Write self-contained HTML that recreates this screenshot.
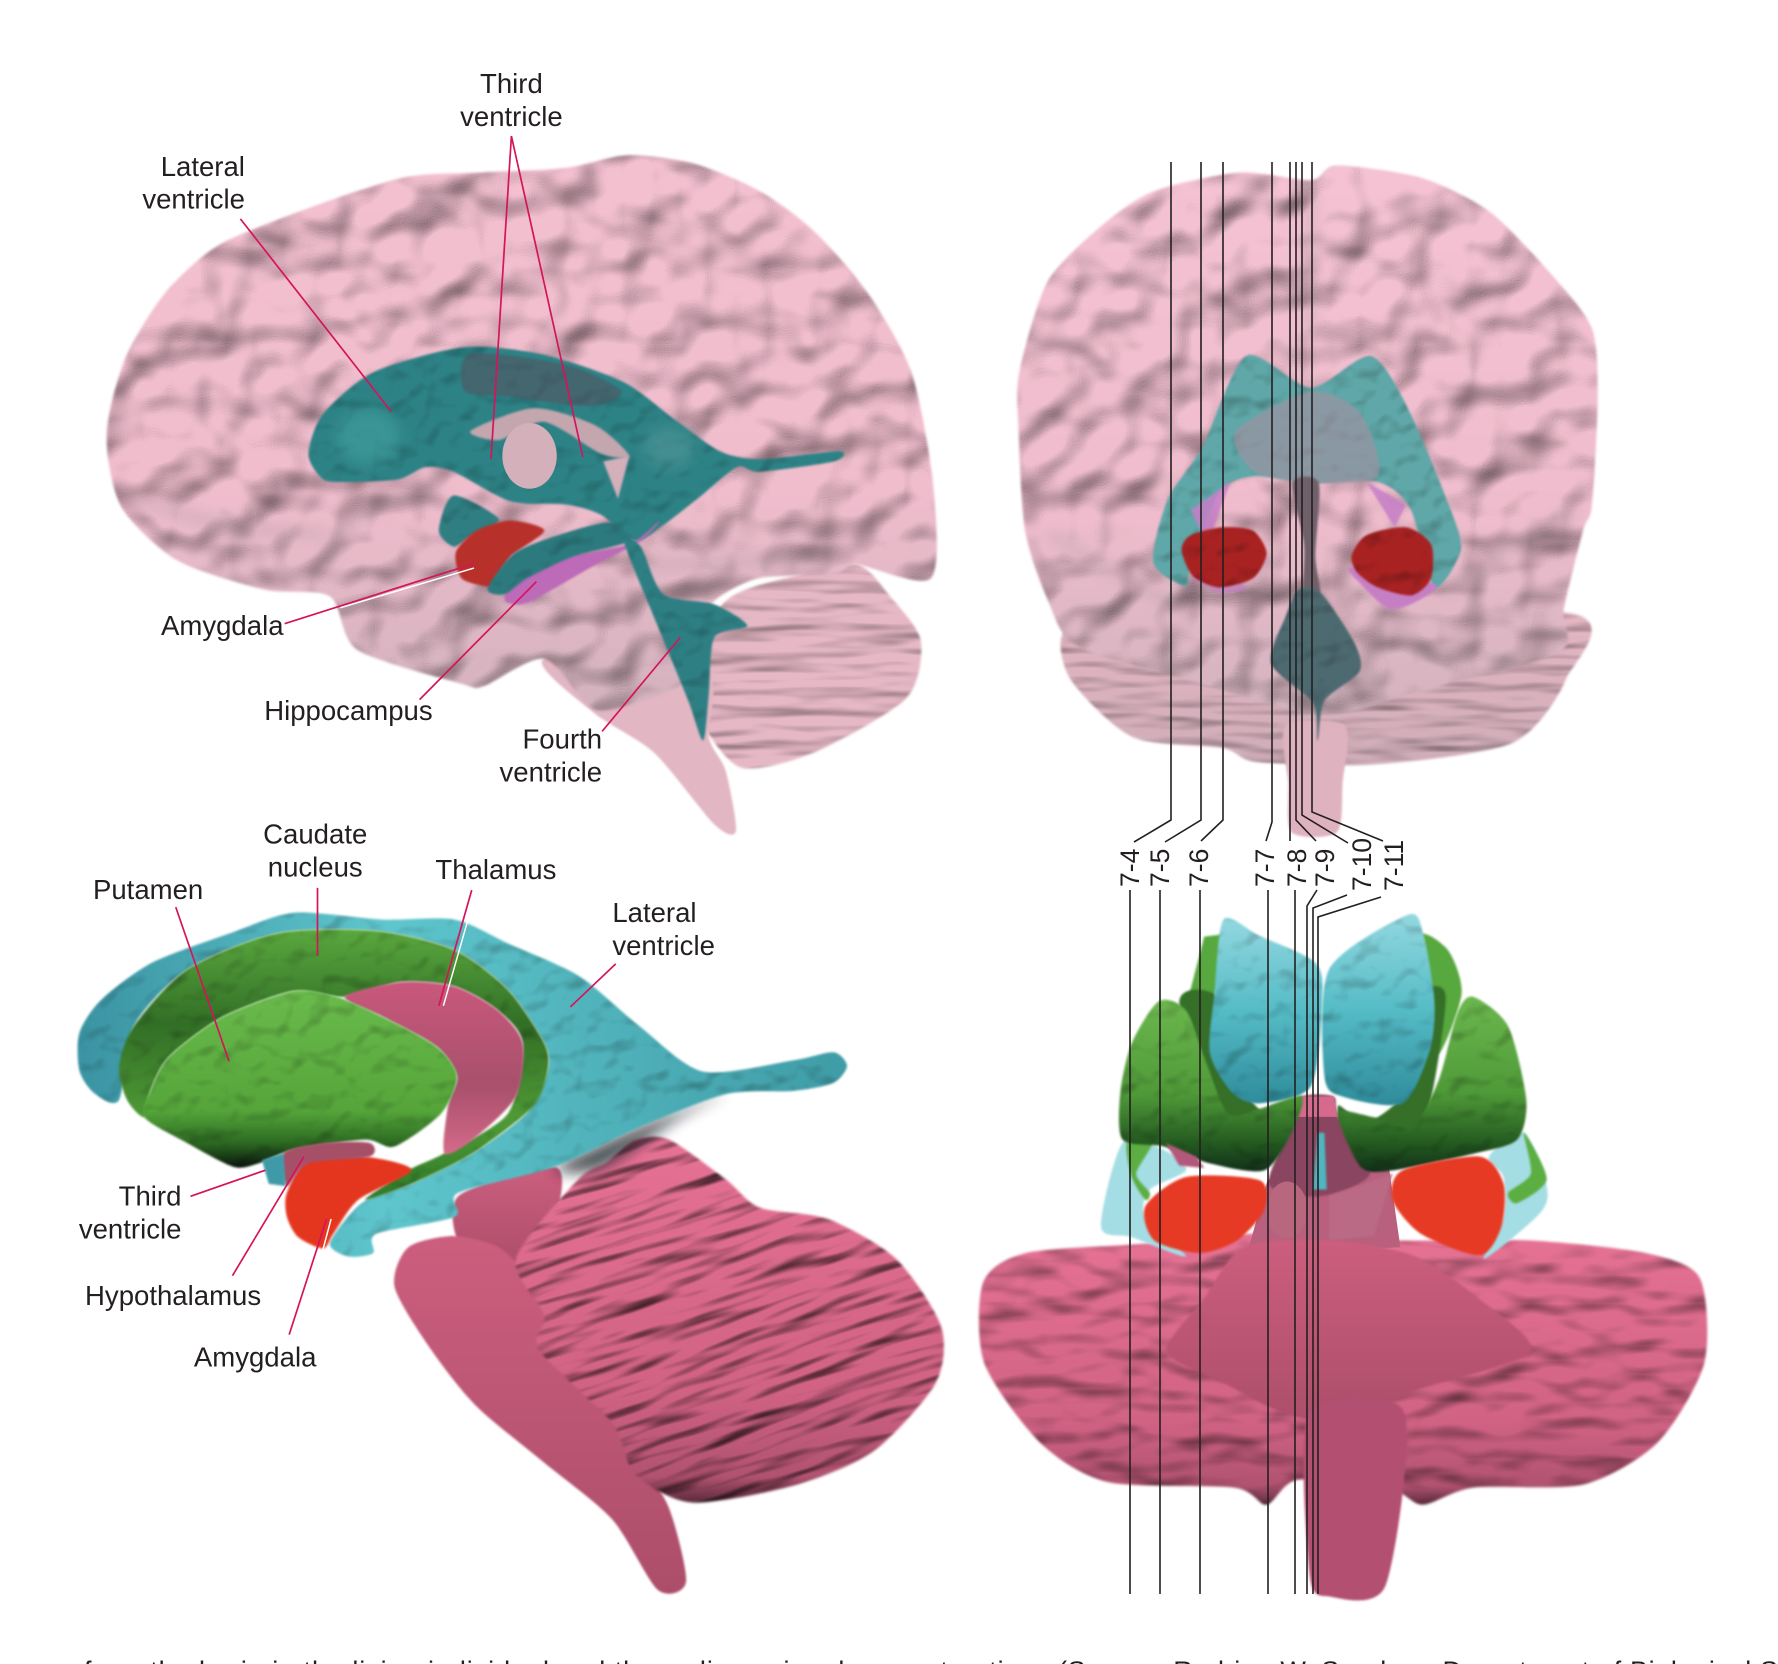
<!DOCTYPE html>
<html><head><meta charset="utf-8">
<style>html,body{margin:0;padding:0;background:#fff}svg{display:block}text{font-family:"Liberation Sans",sans-serif;fill:#231f20}</style></head>
<body>
<svg xmlns="http://www.w3.org/2000/svg" width="1778" height="1664" viewBox="0 0 1778 1664">
<defs>
<filter id="brain" x="-5%" y="-5%" width="110%" height="110%" color-interpolation-filters="sRGB">
<feGaussianBlur in="SourceGraphic" stdDeviation="1.2" result="s"/>
<feTurbulence type="fractalNoise" baseFrequency="0.02 0.023" numOctaves="2" seed="7" result="n"/>
<feGaussianBlur in="n" stdDeviation="1.8" result="n2"/>
<feDiffuseLighting in="n2" surfaceScale="11" diffuseConstant="1.08" lighting-color="#fff" result="l"><feDistantLight azimuth="240" elevation="62"/></feDiffuseLighting>
<feComposite in="s" in2="l" operator="arithmetic" k1="1" k2="0" k3="0" k4="0"/>
</filter>
<filter id="ridge" x="-5%" y="-5%" width="110%" height="110%" color-interpolation-filters="sRGB">
<feGaussianBlur in="SourceGraphic" stdDeviation="1.2" result="s"/>
<feTurbulence type="fractalNoise" baseFrequency="0.012 0.07" numOctaves="2" seed="3" result="n"/>
<feGaussianBlur in="n" stdDeviation=".8" result="n2"/>
<feDiffuseLighting in="n2" surfaceScale="6" diffuseConstant="1.08" lighting-color="#fff" result="l"><feDistantLight azimuth="260" elevation="62"/></feDiffuseLighting>
<feComposite in="s" in2="l" operator="arithmetic" k1="1" k2="0" k3="0" k4="0"/>
</filter>
<filter id="lump" x="-5%" y="-5%" width="110%" height="110%" color-interpolation-filters="sRGB">
<feGaussianBlur in="SourceGraphic" stdDeviation="1.2" result="s"/>
<feTurbulence type="fractalNoise" baseFrequency="0.02 0.04" numOctaves="2" seed="9" result="n"/>
<feGaussianBlur in="n" stdDeviation=".8" result="n2"/>
<feDiffuseLighting in="n2" surfaceScale="6" diffuseConstant="1.08" lighting-color="#fff" result="l"><feDistantLight azimuth="260" elevation="62"/></feDiffuseLighting>
<feComposite in="s" in2="l" operator="arithmetic" k1="1" k2="0" k3="0" k4="0"/>
</filter>
<filter id="ridgeP" x="-5%" y="-5%" width="110%" height="110%" color-interpolation-filters="sRGB">
<feGaussianBlur in="SourceGraphic" stdDeviation="1.2" result="s"/>
<feTurbulence type="fractalNoise" baseFrequency="0.012 0.07" numOctaves="2" seed="5" result="n"/>
<feGaussianBlur in="n" stdDeviation=".8" result="n2"/>
<feDiffuseLighting in="n2" surfaceScale="3" diffuseConstant="1.08" lighting-color="#fff" result="l"><feDistantLight azimuth="260" elevation="62"/></feDiffuseLighting>
<feComposite in="s" in2="l" operator="arithmetic" k1="1" k2="0" k3="0" k4="0"/>
</filter>
<filter id="bump" x="-5%" y="-5%" width="110%" height="110%" color-interpolation-filters="sRGB">
<feGaussianBlur in="SourceGraphic" stdDeviation="1" result="s"/>
<feTurbulence type="fractalNoise" baseFrequency="0.045" numOctaves="2" seed="11" result="n"/>
<feGaussianBlur in="n" stdDeviation="1" result="n2"/>
<feDiffuseLighting in="n2" surfaceScale="3" diffuseConstant="1.14" lighting-color="#fff" result="l"><feDistantLight azimuth="250" elevation="62"/></feDiffuseLighting>
<feComposite in="s" in2="l" operator="arithmetic" k1="1" k2="0" k3="0" k4="0"/>
</filter>
<filter id="soft" x="-10%" y="-10%" width="120%" height="120%" color-interpolation-filters="sRGB"><feGaussianBlur stdDeviation="1"/></filter>
<filter id="blur" x="-30%" y="-30%" width="160%" height="160%"><feGaussianBlur stdDeviation="6"/></filter>
<linearGradient id="pk" x1="0" y1="0" x2="0" y2="1"><stop offset="0" stop-color="#f3c0d0"/><stop offset=".6" stop-color="#f0bdcd"/><stop offset="1" stop-color="#d2b2bd"/></linearGradient>
<linearGradient id="pk2" x1="0" y1="0" x2="0" y2="1"><stop offset="0" stop-color="#f4c2d2"/><stop offset=".65" stop-color="#eebccc"/><stop offset="1" stop-color="#d2b3be"/></linearGradient>
<linearGradient id="pk3" x1="0" y1="0" x2="0" y2="1"><stop offset="0" stop-color="#e4b6c3"/><stop offset="1" stop-color="#cfadb8"/></linearGradient>
<linearGradient id="cy" x1="0" y1="0" x2="1" y2="0"><stop offset="0" stop-color="#3a93a2"/><stop offset=".4" stop-color="#5fc6cd"/><stop offset="1" stop-color="#3f9ca6"/></linearGradient>
<linearGradient id="cy2" x1="0" y1="0" x2="0" y2="1"><stop offset="0" stop-color="#93d8e0"/><stop offset=".5" stop-color="#55bcc6"/><stop offset="1" stop-color="#2f8c9b"/></linearGradient>
<linearGradient id="gr" x1="0" y1="0" x2="0" y2="1"><stop offset="0" stop-color="#5aa83e"/><stop offset=".35" stop-color="#326f26"/><stop offset=".7" stop-color="#4f9a36"/><stop offset="1" stop-color="#2f7a2a"/></linearGradient>
<linearGradient id="gr2" x1="0" y1="0" x2="0" y2="1"><stop offset="0" stop-color="#6abb4c"/><stop offset=".68" stop-color="#55a53a"/><stop offset=".86" stop-color="#2c6a22"/><stop offset="1" stop-color="#0a140c"/></linearGradient>
<linearGradient id="gr3" x1="0" y1="0" x2="0" y2="1"><stop offset="0" stop-color="#6cb84e"/><stop offset=".55" stop-color="#4f9a38"/><stop offset=".85" stop-color="#22571f"/><stop offset="1" stop-color="#12301a"/></linearGradient>
<linearGradient id="mr" x1="0" y1="0" x2="0" y2="1"><stop offset="0" stop-color="#e67294"/><stop offset=".7" stop-color="#d06284"/><stop offset=".93" stop-color="#b05270"/><stop offset="1" stop-color="#5a2a3c"/></linearGradient>
<linearGradient id="mr2" x1="0" y1="0" x2="0" y2="1"><stop offset="0" stop-color="#cc5e7e"/><stop offset="1" stop-color="#ac4e6b"/></linearGradient>
<linearGradient id="th" x1="0" y1="0" x2="0" y2="1"><stop offset="0" stop-color="#c9587c"/><stop offset=".6" stop-color="#a8506c"/><stop offset="1" stop-color="#d56a8a"/></linearGradient>
</defs>
<rect width="1778" height="1664" fill="#fff"/>

<g transform="scale(1.13393)">
<!-- TOP LEFT BRAIN -->
<polygon filter="url(#ridgeP)" fill="#e6b8c5" points="640,530 700,508 756,498 785,526 812,565 799,616 717,664 654,677 620,640 600,600"/>
<polygon filter="url(#soft)" fill="#e2b6c3" points="480,581 620,590 625,650 640,680 649,733 630,727 577,664 523,628"/>
<polygon filter="url(#brain)" fill="url(#pk)" points="94,384 110,317 146,258 195,215 282,180 359,156 427,152 499,148 553,137 611,144 669,168 717,203 765,258 804,329 823,428 821,510 756,498 736,506 669,510 630,530 610,560 605,600 560,620 523,625 480,581 427,605 407,603 315,573 291,526 233,520 156,494 107,447"/>
<g fill="none" stroke="#a8929b" stroke-width="5" opacity=".6" filter="url(#blur)">
<path d="M288,495 Q300,445 390,432"/><path d="M120,440 Q200,470 285,470"/><path d="M560,500 Q660,490 730,500"/>
</g>
<polygon filter="url(#bump)" fill="#2d8285" points="272,400 285,365 330,328 410,306 480,313 550,337 595,370 635,398 670,405 740,398 735,407 670,416 650,412 615,440 585,463 560,477 530,454 500,445 450,442 400,416 375,412 350,423 295,425 282,420"/>
<ellipse cx="325" cy="385" rx="28" ry="24" fill="#3f9d9c" opacity=".7" filter="url(#blur)"/>
<ellipse cx="590" cy="395" rx="22" ry="18" fill="#4d9496" opacity=".7" filter="url(#blur)"/>
<polygon filter="url(#soft)" fill="#56505e" opacity=".55" points="415,312 500,322 548,345 520,358 450,350 410,345"/>
<polygon filter="url(#soft)" fill="#c4a6ae" points="415,380 470,360 525,375 555,402 530,400 480,372 440,388"/>
<ellipse cx="467" cy="402" rx="24" ry="29" fill="#d3b0ba"/>
<polygon filter="url(#soft)" fill="#d3b0ba" points="532,407 555,402 545,440"/>
<polygon filter="url(#bump)" fill="#2f7e82" points="387,468 400,437 440,458 415,473 400,482"/>
<polygon filter="url(#soft)" fill="#bd6ab8" points="445,529 455,508 500,491 555,480 582,459 565,477 520,501 480,524 460,533"/>
<polygon filter="url(#soft)" fill="#b8302a" points="402,487 420,468 450,459 480,468 450,491 435,515 428,517 407,510"/>
<polygon filter="url(#bump)" fill="#2c7a7e" points="430,519 455,487 505,468 540,461 555,477 505,491 465,510 445,524"/>
<polygon filter="url(#bump)" fill="#2e7f83" points="550,477 565,482 585,524 630,533 659,552 630,562 625,613 620,653 607,618 580,552"/>

<!-- TOP RIGHT BRAIN -->
<polygon filter="url(#ridgeP)" fill="url(#pk3)" points="939,557 1000,560 1380,540 1381,599 1334,655 1214,674 1109,672 1079,660 999,650 944,599"/>
<polygon filter="url(#soft)" fill="#dfb2bf" points="1134,640 1186,640 1184,690 1179,734 1139,734 1136,690"/>
<polygon filter="url(#brain)" fill="url(#pk2)" points="899,328 924,248 974,197 1019,168 1094,152 1156,159 1179,146 1254,157 1314,187 1369,243 1404,290 1409,351 1404,445 1396,468 1379,538 1375,575 1250,610 1164,630 1050,600 950,570 924,529 904,468 898,374"/>
<g fill="none" stroke="#a8929b" stroke-width="5" opacity=".55" filter="url(#blur)">
<path d="M925,470 Q990,510 1040,535"/><path d="M1390,450 Q1320,490 1275,525"/><path d="M1156,165 L1156,300"/>
</g>
<polygon filter="url(#bump)" fill="#5fa7a8" points="1099,314 1156,342 1209,314 1244,365 1286,468 1284,496 1264,517 1244,449 1215,425 1156,426 1105,420 1075,435 1050,500 1045,517 1017,496 1030,440 1060,395"/>
<polygon filter="url(#soft)" fill="#a88fa0" opacity=".6" points="1090,380 1156,345 1200,365 1215,420 1156,426 1105,415"/>
<polygon filter="url(#soft)" fill="#c67fc8" opacity=".85" points="1050,450 1085,425 1065,480"/>
<polygon filter="url(#soft)" fill="#c67fc8" opacity=".85" points="1205,425 1240,445 1230,465"/>
<polygon filter="url(#soft)" fill="#c77fc4" points="1192,500 1200,515 1225,537 1250,530 1265,515"/>
<polygon filter="url(#soft)" fill="#c77fc4" opacity=".7" points="1050,510 1075,524 1100,520 1085,500"/>
<polygon filter="url(#bump)" fill="#a92222" points="1042,485 1050,472 1078,465 1105,468 1117,488 1105,510 1075,518 1052,508"/>
<polygon filter="url(#bump)" fill="#a92222" points="1192,490 1205,472 1240,465 1262,480 1262,510 1245,525 1215,518 1197,505"/>
<polygon filter="url(#soft)" fill="#70606a" points="1140,426 1163,426 1160,490 1164,522 1150,520 1150,480"/>
<polygon filter="url(#bump)" fill="#4d6a70" points="1145,520 1164,522 1194,566 1199,592 1168,618 1162,653 1158,620 1121,585 1134,543"/>

<!-- BOTTOM LEFT -->
<polygon filter="url(#soft)" fill="url(#mr2)" points="404,1055 489,1029 492,1067 470,1115 410,1105"/>
<polygon filter="url(#soft)" fill="url(#mr2)" points="348,1135 360,1100 400,1090 440,1100 470,1130 510,1180 560,1280 590,1330 605,1395 580,1402 540,1340 480,1290 420,1240 380,1190"/>
<g transform="rotate(-18 640 1170)" filter="url(#ridge)">
<polygon transform="rotate(18 640 1170)" fill="url(#mr)" points="455,1110 510,1040 535,1025 560,1005 590,1005 640,1040 670,1065 730,1075 790,1110 830,1170 825,1220 770,1280 700,1310 610,1325 560,1300 540,1255 475,1190 480,1160"/>
</g>
<polygon filter="url(#blur)" fill="#10181c" opacity=".75" points="490,1030 564,994 640,965 600,985 530,1030"/>
<polygon filter="url(#bump)" fill="url(#cy)" points="70,911 89,882 134,849 203,823 259,805 338,811 401,811 448,832 511,861 564,905 620,945 700,935 735,928 747,940 735,955 700,962 640,965 564,994 489,1029 404,1052 401,1073 332,1088 329,1105 307,1108 291,1096 319,1061 363,1044 417,1017 464,982 483,944 480,920 448,873 401,838 332,821 244,823 165,855 118,905 105,970 83,964 70,944"/>
<polygon filter="url(#bump)" fill="url(#gr)" points="105,941 118,905 165,855 244,823 332,821 401,838 448,873 480,920 483,944 470,976 417,1017 363,1044 322,1058 360,1032 392,1017 448,982 461,920 439,891 401,870 354,866 304,879 259,874 196,897 149,932 133,961 127,985 112,970"/>
<polygon filter="url(#soft)" fill="url(#th)" points="304,879 354,866 401,870 439,891 461,920 455,967 417,1005 392,1017 395,976 403,949 385,923 338,897"/>
<polygon filter="url(#bump)" fill="url(#gr2)" points="133,961 149,932 196,897 259,874 297,879 338,897 385,923 403,949 389,982 348,1011 322,1005 259,1014 228,1026 206,1029 165,1008 127,985"/>
<polygon filter="url(#soft)" fill="#e4361f" points="253,1052 272,1023 322,1020 363,1032 316,1058 294,1088 285,1101 263,1091 253,1073"/>
<polygon filter="url(#soft)" fill="#a65068" points="250,1017 285,1008 326,1008 326,1020 272,1026 253,1046"/>
<polygon filter="url(#soft)" fill="#3f9aa8" points="231,1023 250,1017 252,1046 237,1044"/>

<!-- BOTTOM RIGHT -->
<polygon filter="url(#lump)" fill="url(#mr)" points="867,1131 905,1105 1006,1097 1107,1088 1172,1094 1249,1094 1350,1094 1451,1105 1499,1127 1503,1202 1462,1272 1397,1309 1299,1312 1255,1327 1227,1314 1145,1305 1117,1327 1089,1312 977,1307 917,1272 868,1202"/>
<polygon fill="#b8607e" points="1118,1040 1225,1030 1235,1100 1100,1105"/>
<polygon filter="url(#soft)" fill="#a4dde4" points="990,1008 971,1082 998,1091 1046,1108 1010,1073 1014,1049 1046,1032 1026,1014"/>
<polygon filter="url(#soft)" fill="#a4dde4" points="1344,999 1364,1046 1358,1070 1309,1110 1326,1073 1326,1038 1313,1020"/>
<polygon filter="url(#soft)" fill="#5cae42" points="994,1008 1016,1008 1002,1035 1014,1052 1010,1058 998,1038"/>
<polygon filter="url(#soft)" fill="#5cae42" points="1344,999 1364,1040 1338,1061 1330,1052 1350,1035"/>
<polygon filter="url(#soft)" fill="#57a83e" points="1062,826 1087,823 1067,894 1046,888"/>
<polygon filter="url(#soft)" fill="#57a83e" points="1251,826 1277,838 1289,876 1269,929 1255,900"/>
<polygon filter="url(#soft)" fill="#356f28" points="1040,885 1075,880 1090,950 1120,985 1148,967 1140,1005 1080,1015"/>
<polygon filter="url(#soft)" fill="#356f28" points="1275,880 1250,880 1240,960 1205,990 1180,975 1190,1010 1250,1010"/>
<polygon filter="url(#soft)" fill="#8a4560" points="1143,985 1148,967 1176,967 1180,985 1208,1035 1164,1055 1119,1044"/>
<polygon fill="#d56a8c" points="1148,967 1176,967 1180,985 1143,985"/>
<polygon filter="url(#soft)" fill="#4fb6c0" points="1162,999 1168,999 1170,1049 1158,1049"/>
<polygon filter="url(#bump)" fill="url(#cy2)" points="1079,811 1110,825 1160,849 1166,882 1156,958 1111,973 1087,964 1067,929 1071,876"/>
<polygon filter="url(#bump)" fill="url(#cy2)" points="1241,807 1255,823 1265,882 1261,926 1237,973 1184,967 1168,949 1172,855"/>
<polygon filter="url(#bump)" fill="url(#gr3)" points="1022,883 1046,891 1063,935 1083,982 1110,978 1148,967 1139,999 1115,1032 1067,1026 1026,1011 990,1005 988,964 998,920"/>
<polygon filter="url(#bump)" fill="url(#gr3)" points="1299,879 1330,905 1346,970 1338,1005 1301,1017 1229,1032 1200,1029 1180,982 1210,985 1245,994 1269,952 1285,894"/>
<polygon filter="url(#soft)" fill="#ba6a85" points="1172,1055 1228,1035 1212,1090 1172,1094"/>
<ellipse cx="1135" cy="1067" rx="18" ry="25" fill="#b8677f"/>
<polygon filter="url(#soft)" fill="#b3587a" points="1028,1008 1055,1020 1062,1030 1040,1028"/>
<polygon filter="url(#soft)" fill="#e63a24" points="1010,1064 1046,1038 1111,1041 1115,1067 1091,1094 1058,1105 1018,1094"/>
<polygon filter="url(#soft)" fill="#e63a24" points="1228,1058 1237,1032 1305,1020 1326,1044 1324,1082 1305,1107 1253,1088"/>
<polygon filter="url(#soft)" fill="url(#mr2)" points="1098,1099 1178,1094 1248,1108 1304,1145 1350,1192 1252,1225 1200,1248 1183,1258 1127,1244 1080,1220 1029,1192 1062,1145"/>
<polygon filter="url(#soft)" fill="#b34f70" points="1155,1245 1238,1245 1222,1398 1173,1408 1155,1389"/>

<!-- crimson leaders -->
<g stroke="#d5145a" stroke-width="1.5" fill="none">
<polyline points="212,193 345,363"/><polyline points="433,405 451,120 514,403"/>
<polyline points="251,550 418,497"/><polyline points="370,617 473,513"/><polyline points="531,645 600,562"/>
<polyline points="280,783 280,843"/><polyline points="155,800 202,936"/>
<polyline points="416,785 387,887"/><polyline points="543,850 503,888"/>
<polyline points="168,1055 234,1032"/><polyline points="205,1125 268,1020"/><polyline points="255,1177 288,1075"/>
</g>
<g stroke="#fff" stroke-width="1.3" fill="none">
<polyline points="300,536 418,501"/><polyline points="391,887 413,810"/><polyline points="292,1075 280,1120"/>
</g>

<!-- labels -->
<g font-size="24.3">
<text x="451" y="82" text-anchor="middle">Third</text><text x="451" y="111" text-anchor="middle">ventricle</text>
<text x="216" y="155" text-anchor="end">Lateral</text><text x="216" y="184" text-anchor="end">ventricle</text>
<text x="142" y="560">Amygdala</text><text x="233" y="635">Hippocampus</text>
<text x="531" y="660" text-anchor="end">Fourth</text><text x="531" y="689" text-anchor="end">ventricle</text>
<text x="278" y="744" text-anchor="middle">Caudate</text><text x="278" y="773" text-anchor="middle">nucleus</text>
<text x="384" y="775">Thalamus</text><text x="82" y="793">Putamen</text>
<text x="540" y="813">Lateral</text><text x="540" y="842">ventricle</text>
<text x="160" y="1063" text-anchor="end">Third</text><text x="160" y="1092" text-anchor="end">ventricle</text>
<text x="75" y="1151">Hypothalamus</text><text x="171" y="1205">Amygdala</text>
</g>
</g>

<!-- section lines (real px) -->
<g stroke="#231f20" stroke-width="1.6" fill="none">
<polyline points="1171,162 1171,820 1134,842"/>
<polyline points="1201,162 1201,820 1165,842"/>
<polyline points="1223,162 1223,820 1201,841"/>
<polyline points="1272,162 1272,822 1266,841"/>
<polyline points="1290,162 1290,841"/>
<polyline points="1296,162 1296,820 1316,841"/>
<polyline points="1302,162 1302,815 1348,843"/>
<polyline points="1312,162 1312,812 1383,841"/>
<polyline points="1130,890 1130,1594"/>
<polyline points="1160,890 1160,1594"/>
<polyline points="1200,890 1200,1594"/>
<polyline points="1268,890 1268,1594"/>
<polyline points="1295,890 1295,1594"/>
<polyline points="1317,890 1307,906 1307,1594"/>
<polyline points="1347,895 1313,908 1313,1594"/>
<polyline points="1381,897 1318,917 1318,1594"/>
</g>
<g font-size="26.5">
<text transform="translate(1139,887) rotate(-90)">7-4</text>
<text transform="translate(1169,887) rotate(-90)">7-5</text>
<text transform="translate(1208,887) rotate(-90)">7-6</text>
<text transform="translate(1274,887) rotate(-90)">7-7</text>
<text transform="translate(1306,887) rotate(-90)">7-8</text>
<text transform="translate(1334,887) rotate(-90)">7-9</text>
<text transform="translate(1371,891) rotate(-90)">7-10</text>
<text transform="translate(1403,891) rotate(-90)">7-11</text>
</g>
<g font-size="27">
<text x="84" y="1680" textLength="960">from the brain in the living individual and three-dimensional reconstruction.</text>
<text x="1058" y="1680" textLength="720">(Source: Rodrigo W. Sanders, Department of Biological S</text>
</g>
</svg>
<script>
(function(){
  var NS="http://www.w3.org/2000/svg";
  document.querySelectorAll("polygon").forEach(function(p){
    var a=p.getAttribute("points").trim().split(/\s+/).map(function(s){return s.split(",").map(Number)});
    var n=a.length;
    if(n<5)return;
    var d="M"+a[0][0]+","+a[0][1];
    for(var i=0;i<n;i++){
      var p0=a[(i-1+n)%n],p1=a[i],p2=a[(i+1)%n],p3=a[(i+2)%n];
      var k=0.13;
      d+="C"+(p1[0]+(p2[0]-p0[0])*k).toFixed(1)+","+(p1[1]+(p2[1]-p0[1])*k).toFixed(1)+" "+
             (p2[0]-(p3[0]-p1[0])*k).toFixed(1)+","+(p2[1]-(p3[1]-p1[1])*k).toFixed(1)+" "+p2[0]+","+p2[1];
    }
    var q=document.createElementNS(NS,"path");
    q.setAttribute("d",d+"Z");
    ["fill","filter","opacity","transform"].forEach(function(x){if(p.hasAttribute(x))q.setAttribute(x,p.getAttribute(x))});
    p.parentNode.replaceChild(q,p);
  });
})();
</script>
</body></html>
